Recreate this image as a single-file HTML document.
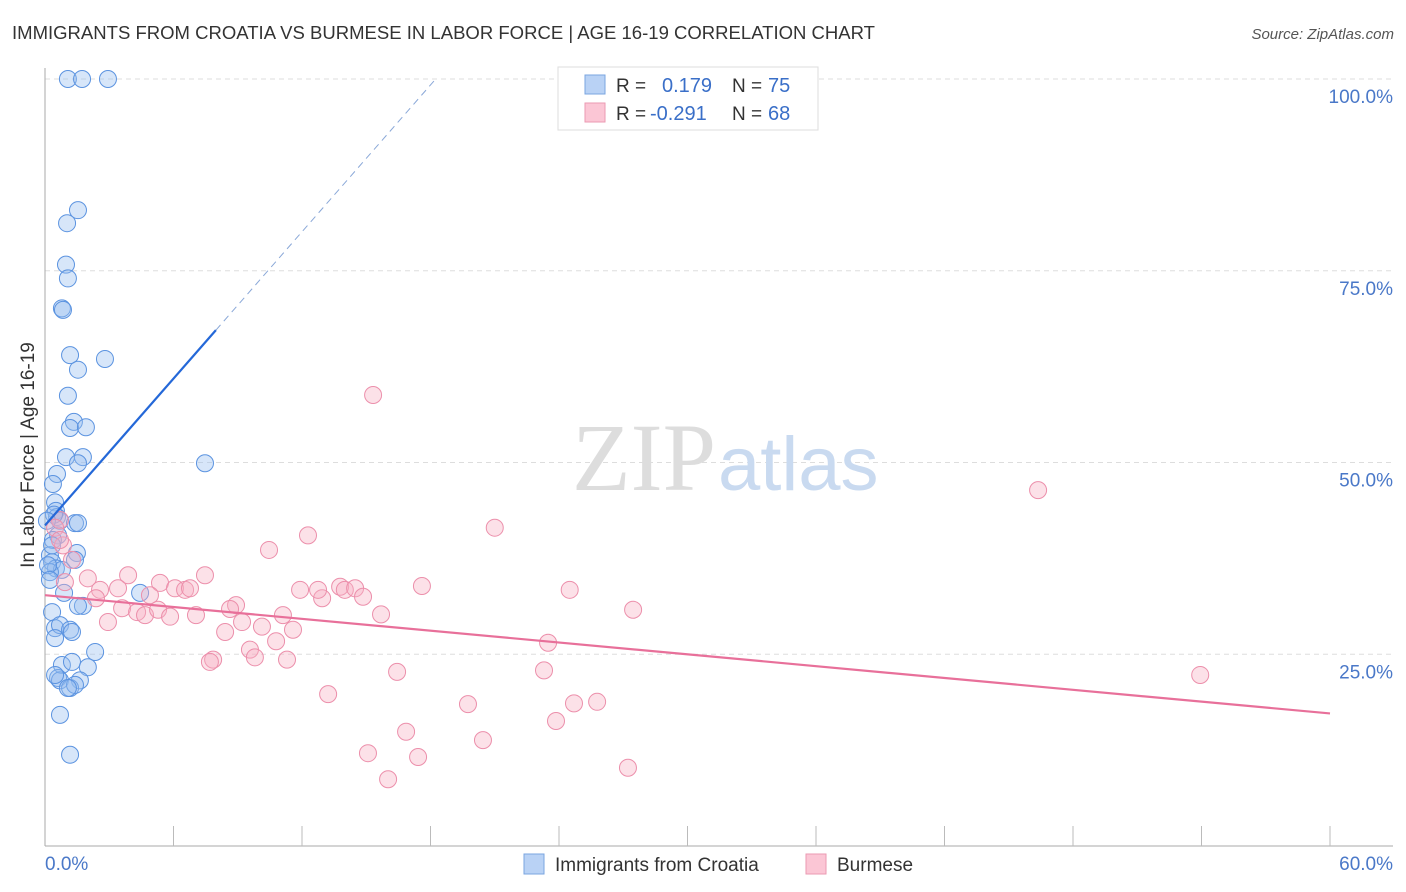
<!DOCTYPE html>
<html><head><meta charset="utf-8"><style>
body{margin:0;background:#fff;font-family:"Liberation Sans",sans-serif}
svg{display:block}
</style></head><body>
<svg width="1406" height="892" viewBox="0 0 1406 892">
<text x="12" y="39" font-size="18" fill="#333" textLength="863" lengthAdjust="spacingAndGlyphs">IMMIGRANTS FROM CROATIA VS BURMESE IN LABOR FORCE | AGE 16-19 CORRELATION CHART</text>
<text x="1394" y="39" font-size="15" fill="#555" font-style="italic" text-anchor="end">Source: ZipAtlas.com</text>
<g id="grid"></g>
<text x="716" y="490" font-size="96" fill="#ddd" text-anchor="end" font-family="Liberation Serif">ZIP</text>
<text x="718" y="490" font-size="76" fill="#c9daf0">atlas</text>
<g id="axes"></g>
<g id="pts"></g>
<g id="trends"></g>
<text x="34" y="455" font-size="19" fill="#333" text-anchor="middle" transform="rotate(-90 34 455)">In Labor Force | Age 16-19</text>
<text x="45" y="870" font-size="19" fill="#4a78c8">0.0%</text>
<text x="1393" y="870" font-size="19" fill="#4a78c8" text-anchor="end">60.0%</text>
<g>
<rect x="558" y="67" width="260" height="63" fill="#fff" stroke="#ddd"/>
<rect x="585" y="75" width="20" height="19" fill="#b9d2f5" stroke="#7aa5e0"/>
<rect x="585" y="103" width="20" height="19" fill="#fbc6d5" stroke="#eb9ab2"/>
<text x="616" y="92" font-size="19" fill="#333">R = </text><text x="662" y="92" font-size="20" fill="#3a6fc8">0.179</text>
<text x="732" y="92" font-size="19" fill="#333">N = </text><text x="768" y="92" font-size="20" fill="#3a6fc8">75</text>
<text x="616" y="120" font-size="19" fill="#333">R = </text><text x="650" y="120" font-size="20" fill="#3a6fc8">-0.291</text>
<text x="732" y="120" font-size="19" fill="#333">N = </text><text x="768" y="120" font-size="20" fill="#3a6fc8">68</text>
</g>
<g>
<rect x="524" y="854" width="20" height="20" fill="#b9d2f5" stroke="#7aa5e0"/>
<text x="555" y="871" font-size="19" fill="#333">Immigrants from Croatia</text>
<rect x="806" y="854" width="20" height="20" fill="#fbc6d5" stroke="#eb9ab2"/>
<text x="837" y="871" font-size="19" fill="#333">Burmese</text>
</g>
</svg>
<script>
const blueX=[1.07,1.73,2.94,1.54,1.03,0.98,1.07,0.79,0.84,1.17,2.8,1.54,1.07,1.35,1.17,1.91,0.98,1.77,1.54,7.47,0.56,0.37,0.47,0.51,0.56,0.7,0.42,1.4,1.54,0.61,0.37,1.49,1.4,0.23,0.33,0.51,0.79,0.23,0.89,4.44,0.33,1.77,1.54,0.47,0.7,1.17,1.26,0.47,2.34,0.79,1.26,2.0,0.61,0.7,0.47,1.63,1.17,1.4,1.07,0.7,1.17,0.14,0.23,0.33,0.09];
const blueY=[100,100,100,82.9,81.2,75.8,74,70.1,69.9,64.0,63.5,62.1,58.7,55.3,54.5,54.6,50.7,50.7,49.9,49.9,48.5,47.2,44.8,43.7,42.9,42.4,43.2,42.1,42.1,40.5,39.9,38.2,37.3,37.9,37.0,36.2,36.0,35.7,33.0,33.0,30.5,31.3,31.3,28.4,28.8,28.2,27.9,27.1,25.3,23.6,24.0,23.3,21.9,21.6,22.3,21.6,20.6,21.0,20.6,17.1,11.9,36.6,34.7,39.2,42.4];
const pinkX=[15.32,46.37,21.0,12.28,10.46,0.7,0.47,0.84,0.7,1.26,0.93,2.0,3.88,7.47,5.37,6.07,6.54,6.77,2.57,3.41,2.38,4.9,3.6,4.3,4.67,5.28,5.84,7.05,8.92,8.64,2.94,8.41,9.2,10.13,11.11,11.58,11.91,12.94,12.75,13.78,14.0,14.48,14.85,15.69,17.6,24.5,27.46,23.49,9.57,9.8,11.3,10.79,7.85,7.7,16.44,13.22,23.3,19.75,24.7,25.78,23.86,16.86,20.45,15.08,17.42,16.02,27.22,53.94];
const pinkY=[58.8,46.4,41.5,40.5,38.6,42.5,41.5,39.2,39.9,37.3,34.4,34.9,35.3,35.3,34.3,33.6,33.4,33.6,33.4,33.6,32.3,32.7,31.0,30.5,30.1,30.8,29.9,30.1,31.4,30.9,29.2,27.9,29.2,28.6,30.1,28.2,33.4,32.3,33.4,33.8,33.4,33.6,32.5,30.2,33.9,33.4,30.8,26.5,25.6,24.6,24.3,26.7,24.3,24.0,22.7,19.8,22.9,18.5,18.6,18.8,16.3,14.9,13.8,12.1,11.6,8.7,10.2,22.3];
const yTicks=[25,50,75,100];
const yTickLabels=["25.0%","50.0%","75.0%","100.0%"];
const blueTrend=[41.8,3.19], pinkTrend=[32.7,-0.257];
const NS="http://www.w3.org/2000/svg";
const sx=v=>45+v/60*1285, sy=v=>846-v/100*767;
function mk(t,a,p){const e=document.createElementNS(NS,t);for(const k in a)e.setAttribute(k,a[k]);document.getElementById(p).appendChild(e);return e;}
yTicks.forEach((t,i)=>{
 const l=mk('line',{x1:45,x2:1393,y1:sy(t),y2:sy(t),stroke:'#ddd','stroke-dasharray':'5,4'},'grid');
 
 
 const tx=mk('text',{x:1393,y:sy(t)+24,'font-size':19,fill:'#4a78c8','text-anchor':'end'},'grid');
 tx.textContent=yTickLabels[i];
 
 
});
mk('line',{x1:45,x2:45,y1:68,y2:846,stroke:'#aaa'},'axes');
mk('line',{x1:45,x2:1393,y1:846,y2:846,stroke:'#aaa'},'axes');
for(let i=1;i<=10;i++){const t=mk('line',{x1:sx(i*6),x2:sx(i*6),y1:826,y2:846,stroke:'#bbb'},'axes');
 
 }
blueX.forEach((x,i)=>{const c=mk('circle',{cx:sx(x),cy:sy(blueY[i]),r:8.5,fill:'rgba(150,190,240,0.38)',stroke:'#5b93e0','stroke-width':1},'pts');
 
 });
pinkX.forEach((x,i)=>{const c=mk('circle',{cx:sx(x),cy:sy(pinkY[i]),r:8.5,fill:'rgba(248,175,195,0.38)',stroke:'#ec8fab','stroke-width':1},'pts');
 
 });
const bx1=7.98, bxEnd=(100-blueTrend[0])/blueTrend[1];
let l=mk('line',{x1:sx(0),y1:sy(blueTrend[0]),x2:sx(bx1),y2:sy(blueTrend[0]+blueTrend[1]*bx1),stroke:'#2468d8','stroke-width':2.2},'trends');


l=mk('line',{x1:sx(bx1),y1:sy(blueTrend[0]+blueTrend[1]*bx1),x2:sx(bxEnd),y2:sy(100),stroke:'#8aa8d8','stroke-width':1,'stroke-dasharray':'7,5'},'trends');


l=mk('line',{x1:sx(0),y1:sy(pinkTrend[0]),x2:sx(60),y2:sy(pinkTrend[0]+pinkTrend[1]*60),stroke:'#e8709a','stroke-width':2.2},'trends');


</script>
</body></html>
